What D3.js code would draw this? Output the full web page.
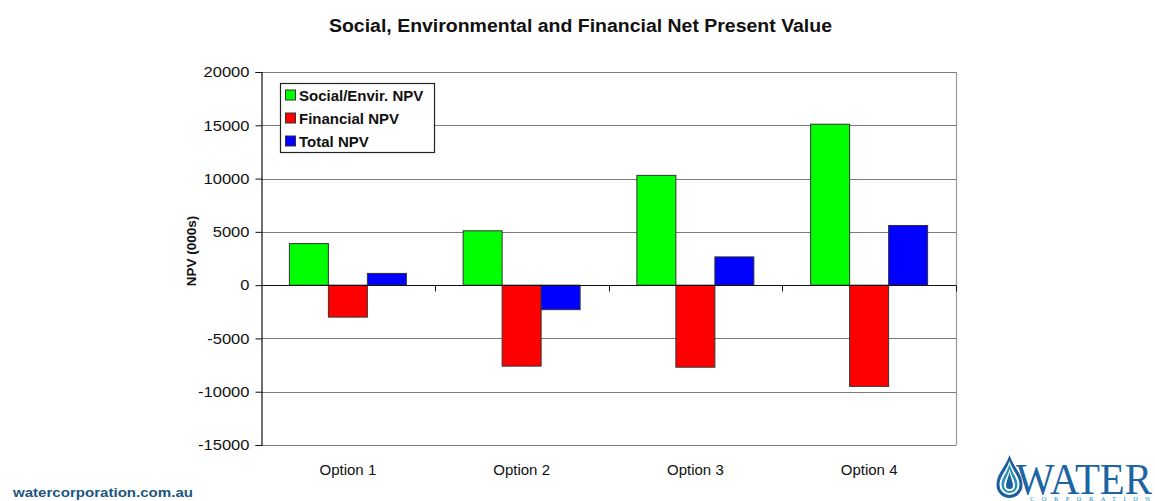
<!DOCTYPE html>
<html>
<head>
<meta charset="utf-8">
<script src="https://cdn.jsdelivr.net/npm/d3@7"></script>
<style>
  html, body { margin: 0; padding: 0; background: #fff; }
  svg { display: block; font-family: "Liberation Sans", Arial, sans-serif; }
</style>
</head>
<body>
<svg id="chart" width="1155" height="501"></svg>
<script>
// Chart data
const categories = ["Option 1", "Option 2", "Option 3", "Option 4"];
const seriesNames = ["Social/Envir. NPV", "Financial NPV", "Total NPV"];
const seriesColors = ["#00ff00", "#ff0000", "#0000ff"];
const socialNPV = [3900, 5100, 10300, 15100];
const financialNPV = [-3000, -7600, -7700, -9500];
const totalNPV = [1100, -2300, 2650, 5600];
const yTicks = [-15000, -10000, -5000, 0, 5000, 10000, 15000, 20000];

const seriesValues = [socialNPV, financialNPV, totalNPV];
const rows = categories.map((c, i) => ({
  category: c,
  values: seriesNames.map((s, k) => ({ series: s, value: seriesValues[k][i], color: seriesColors[k] }))
}));

const svg = d3.select("#chart");
const plot = { left: 261, right: 956, top: 72, bottom: 445 };

const x = d3.scaleBand().domain(categories).range([plot.left, plot.right]).paddingInner(0).paddingOuter(0);
const xs = d3.scaleBand().domain(seriesNames).range([0, x.bandwidth()]).paddingInner(0).paddingOuter(0.728);
const y = d3.scaleLinear().domain([-15000, 20000]).range([plot.bottom, plot.top]);

// Title
svg.append("text")
  .attr("x", 329).attr("y", 32)
  .attr("font-size", 18).attr("font-weight", "bold").attr("fill", "#111")
  .attr("textLength", 503).attr("lengthAdjust", "spacingAndGlyphs")
  .text("Social, Environmental and Financial Net Present Value");

// Horizontal gridlines
svg.append("g").selectAll("line")
  .data(yTicks.filter(t => t !== 0))
  .join("line")
  .attr("x1", plot.left).attr("x2", plot.right)
  .attr("y1", d => Math.round(y(d)) + 0.5).attr("y2", d => Math.round(y(d)) + 0.5)
  .attr("stroke", "#7a7a7a").attr("stroke-width", 1.2);

// Right border of the plot area
svg.append("line")
  .attr("x1", plot.right + 0.5).attr("x2", plot.right + 0.5)
  .attr("y1", plot.top).attr("y2", plot.bottom)
  .attr("stroke", "#9a9a9a").attr("stroke-width", 1.2);

// Bars
const groups = svg.append("g").selectAll("g")
  .data(rows)
  .join("g")
  .attr("transform", d => `translate(${x(d.category)},0)`);

groups.selectAll("rect")
  .data(d => d.values)
  .join("rect")
  .attr("x", d => xs(d.series))
  .attr("width", xs.bandwidth())
  .attr("y", d => y(Math.max(0, d.value)))
  .attr("height", d => Math.abs(y(d.value) - y(0)))
  .attr("fill", d => d.color)
  .attr("stroke", "#333").attr("stroke-width", 1);

// Category axis along zero, with ticks at category boundaries
const zeroY = Math.round(y(0)) + 0.5;
svg.append("line")
  .attr("x1", plot.left).attr("x2", plot.right)
  .attr("y1", zeroY).attr("y2", zeroY)
  .attr("stroke", "#111").attr("stroke-width", 1.2);
svg.append("g").selectAll("line")
  .data(categories.slice(1).concat(["__end"]))
  .join("line")
  .attr("x1", d => d === "__end" ? plot.right + 0.5 : Math.round(x(d)) + 0.5)
  .attr("x2", d => d === "__end" ? plot.right + 0.5 : Math.round(x(d)) + 0.5)
  .attr("y1", zeroY).attr("y2", zeroY + 6)
  .attr("stroke", "#111").attr("stroke-width", 1);

// Category labels
svg.append("g").selectAll("text")
  .data(categories)
  .join("text")
  .attr("x", d => x(d) + x.bandwidth() / 2)
  .attr("y", 475)
  .attr("text-anchor", "middle")
  .attr("font-size", 15).attr("fill", "#111")
  .text(d => d);

// Value axis
const yAxis = d3.axisLeft(y).tickValues(yTicks).tickSize(6).tickPadding(5).tickFormat(d => String(d));
const yg = svg.append("g").attr("transform", `translate(${plot.left + 0.5},0)`).call(yAxis);
yg.select(".domain").attr("stroke", "#111").attr("stroke-width", 1.2);
yg.selectAll(".tick line").attr("stroke", "#111");
yg.selectAll(".tick text")
  .attr("font-size", 15).attr("fill", "#111")
  .attr("font-family", "'Liberation Sans', Arial, sans-serif")
  .attr("transform", "scale(1.1,1)");

svg.append("text")
  .attr("transform", "translate(196,251) rotate(-90)")
  .attr("text-anchor", "middle")
  .attr("font-size", 13.5).attr("font-weight", "bold").attr("fill", "#111")
  .text("NPV (000s)");

// Legend
const legend = svg.append("g").attr("transform", "translate(280.5,83.5)");
legend.append("rect")
  .attr("width", 154).attr("height", 69)
  .attr("fill", "#fff").attr("stroke", "#222").attr("stroke-width", 1.2);
const items = legend.selectAll("g")
  .data(seriesNames)
  .join("g")
  .attr("transform", (d, i) => `translate(5,${6.5 + i * 23})`);
items.append("rect")
  .attr("width", 10).attr("height", 10)
  .attr("fill", (d, i) => seriesColors[i]).attr("stroke", "#333").attr("stroke-width", 1);
items.append("text")
  .attr("x", 13.5).attr("y", 11)
  .attr("font-size", 15).attr("font-weight", "bold").attr("fill", "#111")
  .text(d => d);

// Footer: web address
svg.append("text")
  .attr("x", 13).attr("y", 497)
  .attr("font-size", 13.5).attr("font-weight", "bold").attr("fill", "#1c5580")
  .attr("textLength", 180).attr("lengthAdjust", "spacingAndGlyphs")
  .text("watercorporation.com.au");

// Footer: logo
const logo = svg.append("g");
const drop = (cx, top, bottom, w) => {
  const r = w / 2;
  const cy = bottom - r;
  return `M${cx},${top} C${cx - r * 0.35},${top + (cy - top) * 0.45} ${cx - r},${cy - r * 0.9} ${cx - r},${cy}` +
    ` A${r},${r} 0 0 0 ${cx + r},${cy}` +
    ` C${cx + r},${cy - r * 0.9} ${cx + r * 0.35},${top + (cy - top) * 0.45} ${cx},${top} Z`;
};
logo.append("path").attr("d", drop(1009.5, 455, 498, 26)).attr("fill", "#1b5f9e");
logo.append("path").attr("d", drop(1009.5, 461, 495, 20)).attr("fill", "#fff");
logo.append("path").attr("d", drop(1009.5, 464, 493, 16)).attr("fill", "#2a8fb8");
logo.append("path").attr("d", drop(1009.5, 469, 491, 11)).attr("fill", "#fff");
logo.append("path").attr("d", drop(1009.5, 472, 489, 7)).attr("fill", "#1b5f9e");
logo.append("text")
  .attr("x", 1016).attr("y", 494)
  .attr("font-family", "'Liberation Serif', 'DejaVu Serif', serif")
  .attr("font-size", 44).attr("fill", "#1d64a3")
  .attr("textLength", 136).attr("lengthAdjust", "spacingAndGlyphs")
  .text("WATER");
logo.append("text")
  .attr("x", 1030).attr("y", 501)
  .attr("font-family", "'Liberation Serif', serif")
  .attr("font-size", 6.5).attr("fill", "#2a8fb8")
  .attr("textLength", 120).attr("lengthAdjust", "spacing")
  .text("CORPORATION");
</script>
</body>
</html>
